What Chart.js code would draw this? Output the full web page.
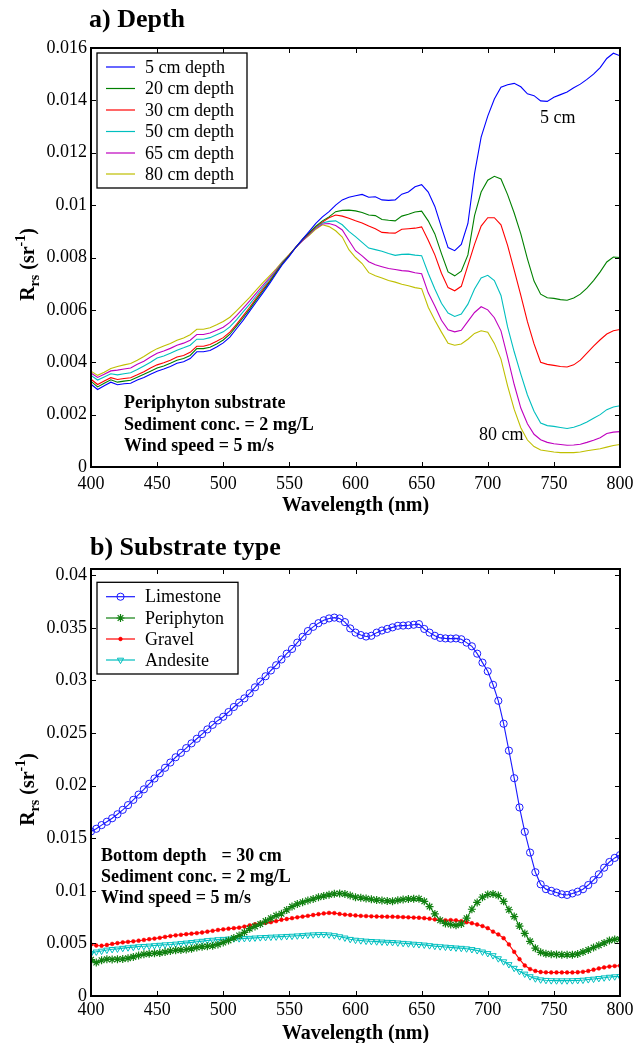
<!DOCTYPE html>
<html>
<head>
<meta charset="utf-8">
<script src="https://cdn.jsdelivr.net/npm/chart.js@4.4.1/dist/chart.umd.min.js"></script>
<style>
  html, body { margin: 0; padding: 0; background: #fff; }
  body { width: 644px; height: 1043px; position: relative; overflow: hidden; }
  canvas { position: absolute; left: 0; }
  #depth { top: 0; width: 644px; height: 515px; }
  #substrate { top: 515px; width: 644px; height: 528px; }
</style>
</head>
<body>
<canvas id="depth" width="644" height="515"></canvas>
<canvas id="substrate" width="644" height="528"></canvas>
<script>
// ---------- (a) remote-sensing reflectance vs. bottom depth ----------
const wavelengthDepth = [
  400,405,410,415,420,425,430,435,440,445,
  450,455,460,465,470,475,480,485,490,495,
  500,505,510,515,520,525,530,535,540,545,
  550,555,560,565,570,575,580,585,590,595,
  600,605,610,615,620,625,630,635,640,645,
  650,655,660,665,670,675,680,685,690,695,
  700,705,710,715,720,725,730,735,740,745,
  750,755,760,765,770,775,780,785,790,795,
  800
];
const depth5cm = [
  0.00316,0.00296,0.00310,0.00324,0.00314,0.00318,0.00320,0.00332,0.00342,0.00354,
  0.00366,0.00374,0.00384,0.00396,0.00402,0.00414,0.00440,0.00440,0.00445,0.00458,
  0.00474,0.00496,0.00528,0.00560,0.00595,0.00630,0.00665,0.00700,0.00738,0.00775,
  0.00805,0.00840,0.00870,0.00900,0.00930,0.00955,0.00975,0.01000,0.01020,0.01030,
  0.01036,0.01041,0.01030,0.01032,0.01020,0.01018,0.01020,0.01042,0.01050,0.01070,
  0.01078,0.01050,0.00995,0.00915,0.00838,0.00826,0.00850,0.00930,0.01120,0.01260,
  0.01340,0.01405,0.01450,0.01460,0.01465,0.01452,0.01425,0.01418,0.01398,0.01396,
  0.01412,0.01422,0.01432,0.01448,0.01462,0.01480,0.01500,0.01525,0.01560,0.01580,
  0.01570
];
const depth20cm = [
  0.00327,0.00306,0.00320,0.00333,0.00324,0.00328,0.00331,0.00343,0.00354,0.00366,
  0.00378,0.00386,0.00396,0.00408,0.00414,0.00426,0.00452,0.00452,0.00457,0.00470,
  0.00485,0.00507,0.00538,0.00570,0.00603,0.00638,0.00672,0.00706,0.00742,0.00778,
  0.00808,0.00840,0.00870,0.00895,0.00920,0.00940,0.00955,0.00975,0.00980,0.00981,
  0.00978,0.00972,0.00962,0.00960,0.00945,0.00942,0.00940,0.00958,0.00965,0.00974,
  0.00977,0.00940,0.00890,0.00815,0.00745,0.00730,0.00748,0.00810,0.00960,0.01050,
  0.01095,0.01110,0.01100,0.01040,0.00970,0.00890,0.00795,0.00710,0.00660,0.00646,
  0.00644,0.00639,0.00637,0.00645,0.00660,0.00683,0.00712,0.00745,0.00783,0.00802,
  0.00800
];
const depth30cm = [
  0.00335,0.00315,0.00328,0.00341,0.00334,0.00338,0.00341,0.00352,0.00364,0.00378,
  0.00390,0.00398,0.00408,0.00420,0.00426,0.00438,0.00461,0.00461,0.00468,0.00480,
  0.00494,0.00515,0.00545,0.00577,0.00610,0.00645,0.00678,0.00710,0.00745,0.00780,
  0.00810,0.00840,0.00868,0.00892,0.00918,0.00935,0.00952,0.00962,0.00958,0.00950,
  0.00940,0.00932,0.00920,0.00910,0.00896,0.00894,0.00893,0.00908,0.00910,0.00912,
  0.00917,0.00866,0.00810,0.00740,0.00685,0.00673,0.00690,0.00770,0.00850,0.00920,
  0.00952,0.00952,0.00925,0.00846,0.00752,0.00655,0.00555,0.00470,0.00400,0.00392,
  0.00388,0.00384,0.00382,0.00390,0.00408,0.00435,0.00462,0.00486,0.00508,0.00520,
  0.00525
];
const depth50cm = [
  0.00350,0.00332,0.00344,0.00356,0.00352,0.00356,0.00360,0.00372,0.00386,0.00400,
  0.00416,0.00424,0.00434,0.00446,0.00455,0.00465,0.00488,0.00488,0.00494,0.00505,
  0.00516,0.00535,0.00562,0.00592,0.00622,0.00654,0.00686,0.00716,0.00748,0.00782,
  0.00810,0.00840,0.00866,0.00890,0.00915,0.00932,0.00938,0.00940,0.00925,0.00900,
  0.00880,0.00858,0.00836,0.00830,0.00824,0.00815,0.00808,0.00812,0.00813,0.00809,
  0.00807,0.00740,0.00680,0.00625,0.00588,0.00575,0.00584,0.00622,0.00680,0.00722,
  0.00732,0.00712,0.00655,0.00535,0.00440,0.00355,0.00275,0.00213,0.00168,0.00158,
  0.00155,0.00151,0.00147,0.00152,0.00160,0.00172,0.00186,0.00200,0.00219,0.00229,
  0.00234
];
const depth65cm = [
  0.00359,0.00342,0.00354,0.00367,0.00370,0.00374,0.00378,0.00392,0.00404,0.00420,
  0.00434,0.00443,0.00453,0.00465,0.00473,0.00484,0.00506,0.00506,0.00512,0.00522,
  0.00534,0.00552,0.00578,0.00606,0.00634,0.00664,0.00694,0.00722,0.00752,0.00783,
  0.00810,0.00840,0.00864,0.00888,0.00912,0.00928,0.00930,0.00922,0.00905,0.00865,
  0.00826,0.00806,0.00784,0.00772,0.00765,0.00758,0.00754,0.00750,0.00748,0.00742,
  0.00738,0.00665,0.00615,0.00560,0.00524,0.00516,0.00522,0.00556,0.00590,0.00612,
  0.00600,0.00570,0.00520,0.00420,0.00315,0.00225,0.00165,0.00125,0.00104,0.00094,
  0.00089,0.00086,0.00083,0.00084,0.00087,0.00094,0.00102,0.00112,0.00128,0.00133,
  0.00135
];
const depth80cm = [
  0.00366,0.00350,0.00362,0.00376,0.00384,0.00390,0.00395,0.00408,0.00422,0.00438,
  0.00452,0.00462,0.00472,0.00484,0.00493,0.00505,0.00526,0.00526,0.00532,0.00543,
  0.00556,0.00572,0.00596,0.00622,0.00648,0.00676,0.00704,0.00730,0.00757,0.00786,
  0.00812,0.00840,0.00865,0.00885,0.00908,0.00925,0.00918,0.00902,0.00878,0.00830,
  0.00800,0.00777,0.00742,0.00730,0.00722,0.00712,0.00706,0.00698,0.00692,0.00685,
  0.00681,0.00610,0.00560,0.00515,0.00472,0.00465,0.00470,0.00488,0.00510,0.00520,
  0.00515,0.00472,0.00412,0.00310,0.00220,0.00150,0.00103,0.00078,0.00065,0.00061,
  0.00057,0.00055,0.00055,0.00055,0.00057,0.00062,0.00066,0.00070,0.00076,0.00082,
  0.00086
];
const depthLabels = ['5 cm depth', '20 cm depth', '30 cm depth', '50 cm depth', '65 cm depth', '80 cm depth'];

// ---------- (b) remote-sensing reflectance vs. substrate type ----------
const wavelengthSubstrate = [
  400,404,408,412,416,420,424,428,432,436,
  440,444,448,452,456,460,464,468,472,476,
  480,484,488,492,496,500,504,508,512,516,
  520,524,528,532,536,540,544,548,552,556,
  560,564,568,572,576,580,584,588,592,596,
  600,604,608,612,616,620,624,628,632,636,
  640,644,648,652,656,660,664,668,672,676,
  680,684,688,692,696,700,704,708,712,716,
  720,724,728,732,736,740,744,748,752,756,
  760,764,768,772,776,780,784,788,792,796,
  800
];
const limestone = [
  0.01565,0.01590,0.01625,0.01657,0.01690,0.01728,0.01770,0.01815,0.01865,0.01915,
  0.01965,0.02018,0.02068,0.02118,0.02170,0.02220,0.02270,0.02312,0.02357,0.02402,
  0.02446,0.02490,0.02535,0.02578,0.02620,0.02655,0.02700,0.02748,0.02790,0.02830,
  0.02878,0.02935,0.02990,0.03040,0.03095,0.03145,0.03200,0.03255,0.03300,0.03360,
  0.03415,0.03470,0.03510,0.03545,0.03572,0.03590,0.03598,0.03590,0.03555,0.03495,
  0.03455,0.03432,0.03418,0.03425,0.03455,0.03475,0.03490,0.03505,0.03520,0.03522,
  0.03525,0.03530,0.03536,0.03490,0.03455,0.03425,0.03405,0.03400,0.03398,0.03400,
  0.03392,0.03360,0.03325,0.03255,0.03170,0.03087,0.02959,0.02807,0.02589,0.02333,
  0.02071,0.01793,0.01561,0.01364,0.01177,0.01062,0.01016,0.01000,0.00984,0.00967,
  0.00961,0.00975,0.00992,0.01015,0.01055,0.01103,0.01157,0.01220,0.01274,0.01313,
  0.01340
];
const periphyton = [
  0.00345,0.00318,0.00340,0.00350,0.00348,0.00350,0.00352,0.00360,0.00372,0.00385,
  0.00396,0.00402,0.00406,0.00410,0.00418,0.00428,0.00434,0.00438,0.00442,0.00450,
  0.00462,0.00468,0.00472,0.00478,0.00490,0.00508,0.00528,0.00552,0.00575,0.00605,
  0.00640,0.00662,0.00684,0.00712,0.00740,0.00765,0.00782,0.00818,0.00850,0.00875,
  0.00892,0.00908,0.00922,0.00938,0.00950,0.00962,0.00972,0.00975,0.00970,0.00955,
  0.00940,0.00934,0.00926,0.00920,0.00912,0.00908,0.00904,0.00902,0.00910,0.00918,
  0.00922,0.00925,0.00925,0.00900,0.00850,0.00780,0.00720,0.00690,0.00680,0.00672,
  0.00685,0.00740,0.00825,0.00890,0.00940,0.00965,0.00970,0.00955,0.00900,0.00820,
  0.00755,0.00665,0.00595,0.00520,0.00455,0.00415,0.00402,0.00398,0.00395,0.00393,
  0.00393,0.00393,0.00400,0.00418,0.00438,0.00460,0.00482,0.00505,0.00528,0.00538,
  0.00540
];
const gravel = [
  0.00490,0.00480,0.00478,0.00485,0.00495,0.00503,0.00510,0.00515,0.00520,0.00526,
  0.00533,0.00540,0.00546,0.00553,0.00562,0.00570,0.00577,0.00582,0.00588,0.00593,
  0.00598,0.00604,0.00612,0.00620,0.00628,0.00634,0.00640,0.00645,0.00650,0.00660,
  0.00672,0.00682,0.00690,0.00695,0.00702,0.00712,0.00725,0.00732,0.00740,0.00748,
  0.00755,0.00762,0.00770,0.00778,0.00785,0.00790,0.00788,0.00780,0.00774,0.00770,
  0.00766,0.00762,0.00760,0.00758,0.00756,0.00755,0.00754,0.00754,0.00752,0.00750,
  0.00748,0.00746,0.00744,0.00740,0.00735,0.00728,0.00722,0.00720,0.00722,0.00720,
  0.00712,0.00702,0.00692,0.00680,0.00665,0.00645,0.00612,0.00585,0.00550,0.00490,
  0.00420,0.00350,0.00290,0.00256,0.00238,0.00228,0.00225,0.00224,0.00224,0.00224,
  0.00224,0.00224,0.00226,0.00230,0.00238,0.00250,0.00262,0.00272,0.00280,0.00285,
  0.00288
];
const andesite = [
  0.00405,0.00420,0.00428,0.00438,0.00444,0.00448,0.00455,0.00460,0.00465,0.00470,
  0.00473,0.00476,0.00480,0.00484,0.00488,0.00490,0.00495,0.00500,0.00505,0.00510,
  0.00516,0.00522,0.00528,0.00532,0.00537,0.00540,0.00543,0.00545,0.00546,0.00548,
  0.00550,0.00553,0.00556,0.00558,0.00561,0.00563,0.00565,0.00568,0.00570,0.00573,
  0.00576,0.00580,0.00583,0.00585,0.00585,0.00582,0.00575,0.00565,0.00553,0.00540,
  0.00532,0.00527,0.00523,0.00520,0.00517,0.00515,0.00512,0.00510,0.00506,0.00502,
  0.00498,0.00494,0.00490,0.00486,0.00480,0.00474,0.00470,0.00466,0.00462,0.00458,
  0.00455,0.00450,0.00443,0.00433,0.00420,0.00405,0.00385,0.00356,0.00327,0.00300,
  0.00265,0.00235,0.00210,0.00185,0.00165,0.00155,0.00150,0.00147,0.00146,0.00146,
  0.00146,0.00147,0.00149,0.00152,0.00157,0.00162,0.00168,0.00174,0.00180,0.00184,
  0.00186
];
const substrateLabels = ['Limestone', 'Periphyton', 'Gravel', 'Andesite'];

// ---------- tick values ----------
const wavelengthTicks = [400, 450, 500, 550, 600, 650, 700, 750, 800];
const depthTicks = [0, 0.002, 0.004, 0.006, 0.008, 0.01, 0.012, 0.014, 0.016];
const substrateTicks = [0, 0.005, 0.01, 0.015, 0.02, 0.025, 0.03, 0.035, 0.04];

// ---------- styles ----------
const SERIF = '"Liberation Serif", "Times New Roman", Times, serif';
const depthColors = ['#0000ff', '#008000', '#ff0000', '#00bfbf', '#bf00bf', '#bfbf00'];
const substrateStyles = [
  { color: '#1a1aff', pointStyle: 'circle',   radius: 3.6, fill: 'rgba(0,0,0,0)', rotation: 0,   pointBorder: 1 },
  { color: '#108010', pointStyle: 'star',     radius: 4.0, fill: 'rgba(0,0,0,0)', rotation: 0,   pointBorder: 1.2 },
  { color: '#ff0000', pointStyle: 'circle',   radius: 1.9, fill: '#ff0000',       rotation: 0,   pointBorder: 0.5 },
  { color: '#00bfbf', pointStyle: 'triangle', radius: 3.6, fill: 'rgba(0,0,0,0)', rotation: 180, pointBorder: 1 }
];

Chart.defaults.font.family = SERIF;
Chart.defaults.color = '#000';

const tickLabel = v => String(+Number(v).toFixed(4));

function makeOptions(yMax, yTickValues, padTop, xAxisHeight, xLabelPad) {
  return {
    responsive: false,
    animation: false,
    devicePixelRatio: 1,
    layout: { padding: { left: 0, right: 24, top: padTop, bottom: 0 } },
    plugins: { legend: { display: false }, tooltip: { enabled: false }, title: { display: false } },
    scales: {
      x: {
        type: 'linear', min: 400, max: 800,
        afterBuildTicks(scale) { scale.ticks = wavelengthTicks.map(v => ({ value: v })); },
        afterFit(scale) { scale.height = xAxisHeight; },
        grid: { display: false, drawTicks: false }, border: { display: false },
        ticks: { font: { size: 18 }, color: '#000', padding: xLabelPad, maxRotation: 0, autoSkip: false, callback: v => String(v) },
        title: { display: true, text: 'Wavelength (nm)', color: '#000', font: { size: 20, weight: 'bold' }, padding: { top: 0, bottom: -3 } }
      },
      y: {
        type: 'linear', min: 0, max: yMax,
        afterBuildTicks(scale) { scale.ticks = yTickValues.map(v => ({ value: v })); },
        afterFit(scale) { scale.width = 91; },
        grid: { display: false, drawTicks: false }, border: { display: false },
        ticks: { font: { size: 18 }, color: '#000', padding: 4, autoSkip: false, callback: tickLabel }
      }
    },
    elements: { line: { tension: 0 } }
  };
}

// axes box with inward tick marks on all four sides
const framePlugin = {
  id: 'frame',
  afterDraw(chart) {
    const { ctx, chartArea: a, scales: { x, y } } = chart;
    ctx.save();
    ctx.strokeStyle = '#000';
    ctx.lineWidth = 1;
    ctx.beginPath();
    x.ticks.forEach(t => {
      const px = Math.round(x.getPixelForValue(t.value)) + 0.5;
      ctx.moveTo(px, a.bottom); ctx.lineTo(px, a.bottom - 5);
      ctx.moveTo(px, a.top); ctx.lineTo(px, a.top + 5);
    });
    y.ticks.forEach(t => {
      const py = Math.round(y.getPixelForValue(t.value)) + 0.5;
      ctx.moveTo(a.left, py); ctx.lineTo(a.left + 5, py);
      ctx.moveTo(a.right, py); ctx.lineTo(a.right - 5, py);
    });
    ctx.stroke();
    ctx.lineWidth = 2;
    ctx.strokeRect(a.left, a.top, a.right - a.left, a.bottom - a.top);
    ctx.restore();
  }
};

// rotated y-axis title "R_rs (sr^-1)"
const yTitlePlugin = {
  id: 'yTitle',
  afterDraw(chart) {
    const { ctx, chartArea: a } = chart;
    const big = 'bold 20px ' + SERIF, small = 'bold 14px ' + SERIF;
    const parts = [
      { t: 'R', f: big, dy: 0 },
      { t: 'rs', f: small, dy: 5 },
      { t: ' (sr', f: big, dy: 0 },
      { t: '-1', f: small, dy: -9 },
      { t: ')', f: big, dy: 0 }
    ];
    ctx.save();
    let total = 0;
    parts.forEach(p => { ctx.font = p.f; p.w = ctx.measureText(p.t).width; total += p.w; });
    ctx.translate(34, (a.top + a.bottom) / 2 + 7);
    ctx.rotate(-Math.PI / 2);
    ctx.fillStyle = '#000';
    ctx.textBaseline = 'alphabetic';
    ctx.textAlign = 'left';
    let cx = -total / 2;
    parts.forEach(p => { ctx.font = p.f; ctx.fillText(p.t, cx, p.dy); cx += p.w; });
    ctx.restore();
  }
};

function legendPlugin(box) {
  return {
    id: 'boxLegend',
    afterDatasetsDraw(chart) {
      const { ctx } = chart;
      ctx.save();
      ctx.fillStyle = '#fff';
      ctx.fillRect(box.left, box.top, box.right - box.left, box.bottom - box.top);
      ctx.strokeStyle = '#000';
      ctx.lineWidth = 1.3;
      ctx.strokeRect(box.left, box.top, box.right - box.left, box.bottom - box.top);
      chart.data.datasets.forEach((ds, i) => {
        const yy = box.rows[i];
        ctx.strokeStyle = ds.borderColor;
        ctx.lineWidth = box.lineWidth;
        ctx.beginPath();
        ctx.moveTo(box.left + 9, yy); ctx.lineTo(box.left + 38, yy);
        ctx.stroke();
        if (ds.pointRadius > 0) {
          ctx.fillStyle = ds.pointBackgroundColor;
          ctx.strokeStyle = ds.pointBorderColor;
          ctx.lineWidth = ds.pointBorderWidth;
          Chart.helpers.drawPoint(ctx, {
            pointStyle: ds.pointStyle, rotation: ds.pointRotation || 0,
            radius: ds.pointRadius, borderWidth: ds.pointBorderWidth
          }, box.left + 23.5, yy);
        }
        ctx.fillStyle = '#000';
        ctx.font = '18px ' + SERIF;
        ctx.textBaseline = 'middle';
        ctx.textAlign = 'left';
        ctx.fillText(ds.label, box.left + 48, yy + 1);
      });
      ctx.restore();
    }
  };
}

// panel titles and in-plot notes
function notesPlugin(items) {
  return {
    id: 'notes',
    afterDraw(chart) {
      const { ctx } = chart;
      ctx.save();
      ctx.fillStyle = '#000';
      ctx.textBaseline = 'middle';
      ctx.textAlign = 'left';
      items.forEach(it => {
        ctx.font = it.font;
        let x = it.x;
        if (it.alignAfter) x = it.x + ctx.measureText(it.alignAfter).width;
        ctx.fillText(it.text, x, it.y);
      });
      ctx.restore();
    }
  };
}

const depthSeries = [depth5cm, depth20cm, depth30cm, depth50cm, depth65cm, depth80cm];

new Chart(document.getElementById('depth'), {
  type: 'line',
  data: {
    datasets: depthSeries.map((s, i) => ({
      label: depthLabels[i],
      data: wavelengthDepth.map((w, j) => ({ x: w, y: s[j] })),
      borderColor: depthColors[i],
      borderWidth: 1.1,
      pointRadius: 0,
      fill: false
    }))
  },
  options: makeOptions(0.016, depthTicks, 48, 48, 6),
  plugins: [
    framePlugin, yTitlePlugin,
    legendPlugin({ left: 97, top: 53, right: 247, bottom: 188, rows: [67, 88.5, 110, 131.5, 153, 174], lineWidth: 1.2 }),
    notesPlugin([
      { text: 'a) Depth', x: 89, y: 20, font: 'bold 26px ' + SERIF },
      { text: '5 cm', x: 540, y: 118, font: '18px ' + SERIF },
      { text: '80 cm', x: 479, y: 435, font: '18px ' + SERIF },
      { text: 'Periphyton substrate', x: 124, y: 403, font: 'bold 18px ' + SERIF },
      { text: 'Sediment conc. = 2 mg/L', x: 124, y: 425, font: 'bold 18px ' + SERIF },
      { text: 'Wind speed = 5 m/s', x: 124, y: 446.5, font: 'bold 18px ' + SERIF }
    ])
  ]
});

const substrateSeries = [limestone, periphyton, gravel, andesite];

new Chart(document.getElementById('substrate'), {
  type: 'line',
  data: {
    datasets: substrateSeries.map((s, i) => {
      const st = substrateStyles[i];
      return {
        label: substrateLabels[i],
        data: wavelengthSubstrate.map((w, j) => ({ x: w, y: s[j] })),
        borderColor: st.color,
        borderWidth: 1.1,
        pointStyle: st.pointStyle,
        pointRadius: st.radius,
        pointRotation: st.rotation,
        pointBorderColor: st.color,
        pointBackgroundColor: st.fill,
        pointBorderWidth: st.pointBorder,
        fill: false
      };
    })
  },
  options: makeOptions(0.0406, substrateTicks, 54, 47, 3),
  plugins: [
    framePlugin, yTitlePlugin,
    legendPlugin({ left: 97, top: 67.3, right: 238, bottom: 159, rows: [81.7, 103, 124, 145], lineWidth: 1.2 }),
    notesPlugin([
      { text: 'b) Substrate type', x: 90, y: 33, font: 'bold 26px ' + SERIF },
      { text: 'Bottom depth', x: 101, y: 341, font: 'bold 18px ' + SERIF },
      { text: '= 30 cm', x: 101, y: 341, font: 'bold 18px ' + SERIF, alignAfter: 'Sediment conc. ' },
      { text: 'Sediment conc. = 2 mg/L', x: 101, y: 362, font: 'bold 18px ' + SERIF },
      { text: 'Wind speed = 5 m/s', x: 101, y: 383.5, font: 'bold 18px ' + SERIF }
    ])
  ]
});
</script>
</body>
</html>
